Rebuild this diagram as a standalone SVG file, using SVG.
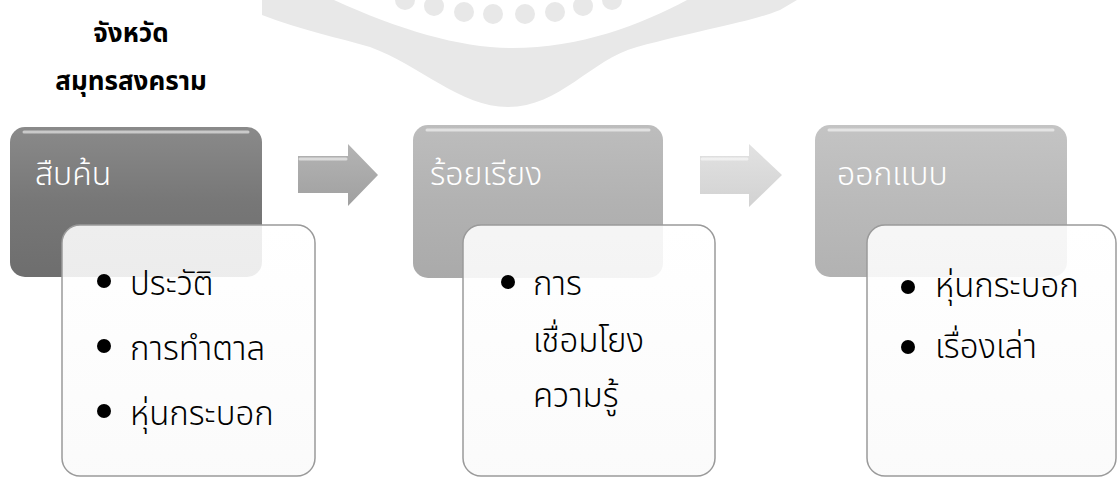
<svg xmlns="http://www.w3.org/2000/svg" width="1117" height="477" viewBox="0 0 1117 477">
<style>
.t{font-family:"Noto Sans Thai","Noto Sans","DejaVu Sans",sans-serif}
.h{font-size:26px;font-weight:bold;fill:#000}
.ttl{font-size:32px;fill:#ffffff;font-weight:300}
.it{font-size:33px;fill:#000;font-weight:300}
.wb{fill:url(#wg);fill-opacity:0.88;stroke:#9a9a9a;stroke-width:1.5}
.hl{fill:none;stroke:#ffffff;stroke-opacity:0.55;stroke-width:3;stroke-linecap:round}
</style>
<defs>
<linearGradient id="g1" x1="0" y1="0" x2="0" y2="1"><stop offset="0" stop-color="#8a8a8a"/><stop offset="0.5" stop-color="#777"/><stop offset="1" stop-color="#6e6e6e"/></linearGradient>
<linearGradient id="g2" x1="0" y1="0" x2="0" y2="1"><stop offset="0" stop-color="#bdbdbd"/><stop offset="0.5" stop-color="#b2b2b2"/><stop offset="1" stop-color="#aaaaaa"/></linearGradient>
<linearGradient id="g3" x1="0" y1="0" x2="0" y2="1"><stop offset="0" stop-color="#c4c4c4"/><stop offset="0.5" stop-color="#bababa"/><stop offset="1" stop-color="#b2b2b2"/></linearGradient>
<linearGradient id="wg" x1="0" y1="0" x2="0" y2="1"><stop offset="0" stop-color="#ffffff"/><stop offset="1" stop-color="#fafafa"/></linearGradient>
<linearGradient id="a1" x1="0" y1="0" x2="0" y2="1"><stop offset="0" stop-color="#b4b4b4"/><stop offset="1" stop-color="#a0a0a0"/></linearGradient>
<linearGradient id="a2" x1="0" y1="0" x2="0" y2="1"><stop offset="0" stop-color="#e2e2e2"/><stop offset="1" stop-color="#d2d2d2"/></linearGradient>
</defs>
<rect width="1117" height="477" fill="#ffffff"/>
<g id="watermark">
<path d="M262,0 L262,15 C300,30 340,38 370,47 C420,65 460,107 508,107 C560,107 590,60 637,47 C700,30 750,22 780,10 L797,0 Z" fill="#e8e8e8"/>
<path d="M334,0 C400,30 460,48 512,48 C580,48 640,25 687,0 Z" fill="#ffffff"/>
<g fill="#e8e8e8">
<circle cx="405" cy="0" r="10"/><circle cx="434" cy="6" r="10"/><circle cx="464" cy="12" r="10"/><circle cx="493" cy="14" r="10"/><circle cx="525" cy="14" r="10"/><circle cx="555" cy="12" r="10"/><circle cx="583" cy="6" r="10"/><circle cx="612" cy="0" r="10"/>
</g>
</g>
<g id="heading" class="t h" text-anchor="middle">
<text x="131" y="42">จังหวัด</text>
<text x="131" y="90">สมุทรสงคราม</text>
</g>
<g id="connectors">
<path d="M298,156 L348,156 L348,144 L378,175 L348,206 L348,193 L298,193 Z" fill="url(#a1)"/>
<path d="M300,159 L346,159" class="hl"/>
<path d="M700,156 L749,156 L749,144 L782,175 L749,207 L749,194 L700,194 Z" fill="url(#a2)"/>
<path d="M702,159 L747,159" class="hl"/>
</g>
<g id="step1">
<rect x="10" y="127" width="252" height="150" rx="15" fill="url(#g1)"/>
<path d="M24,132 L248,132" class="hl"/>
<text x="35" y="185" class="t ttl">สืบค้น</text>
</g>
<g id="step2">
<rect x="413" y="125" width="250" height="153" rx="15" fill="url(#g2)"/>
<path d="M427,130 L649,130" class="hl"/>
<text x="430" y="185" class="t ttl">ร้อยเรียง</text>
</g>
<g id="step3">
<rect x="815" y="125" width="252" height="152" rx="15" fill="url(#g3)"/>
<path d="M829,130 L1053,130" class="hl"/>
<text x="837" y="185" class="t ttl">ออกแบบ</text>
</g>
<g id="detail1">
<rect x="62" y="225" width="253" height="251" rx="18" class="wb"/>
<g fill="#000"><circle cx="104" cy="281" r="7"/><circle cx="104" cy="346" r="7"/><circle cx="104" cy="411" r="7"/></g>
<text class="t it" x="130" y="295">ประวัติ</text>
<text class="t it" x="130" y="360">การทำตาล</text>
<text class="t it" x="130" y="425">หุ่นกระบอก</text>
</g>
<g id="detail2">
<rect x="463" y="225" width="252" height="251" rx="18" class="wb"/>
<circle cx="508" cy="282" r="7" fill="#000"/>
<text class="t it" x="533" y="295">การ</text>
<text class="t it" x="533" y="352">เชื่อมโยง</text>
<text class="t it" x="533" y="407">ความรู้</text>
</g>
<g id="detail3">
<rect x="867" y="225" width="249" height="251" rx="18" class="wb"/>
<g fill="#000"><circle cx="908" cy="287" r="7"/><circle cx="908" cy="347" r="7"/></g>
<text class="t it" x="935" y="297">หุ่นกระบอก</text>
<text class="t it" x="935" y="358">เรื่องเล่า</text>
</g>
</svg>
